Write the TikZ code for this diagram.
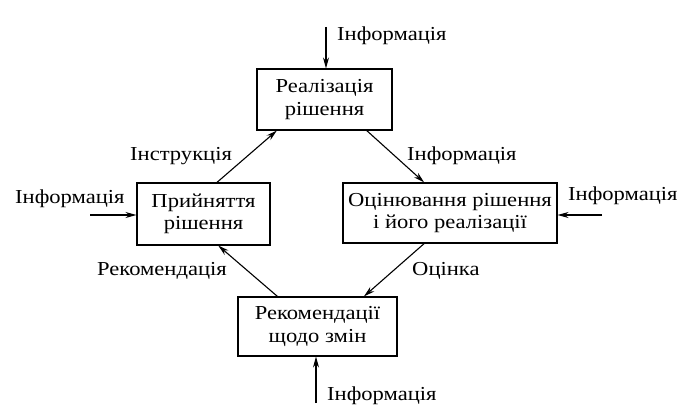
\documentclass[tikz,border=0pt]{standalone}
\usepackage{fontspec}
\setmainfont{Liberation Serif}[FakeStretch=1.14]
\usetikzlibrary{arrows.meta,calc}
\begin{document}
\begin{tikzpicture}[x=1pt,y=-1pt,
  font=\fontsize{19.8}{22.5}\selectfont,
  blk/.style={draw,line width=1.1pt,align=center,inner sep=0pt,minimum width=#1},
  lbl/.style={inner sep=0pt,anchor=west},
  arr/.style={line width=1.1pt,-{Stealth[length=11pt,width=6pt]}},
  ln/.style={line width=1.1pt}]
\useasboundingbox (0,0) rectangle (687,414);
\node[blk=135pt,minimum height=61pt] (top) at (324.5,99.5) {Реалізація\\рішення};
\node[blk=133pt,minimum height=62pt] (left) at (203.5,214) {Прийняття\\рішення};
\node[blk=214pt,minimum height=60pt] (right) at (450,213) {Оцінювання рішення\\і його реалізації};
\node[blk=159pt,minimum height=59pt] (bot) at (317.5,326.5) {Рекомендації\\щодо змін};
\coordinate (it) at (326,27);
\coordinate (il) at (90,215);
\coordinate (ir) at (602,215);
\coordinate (ib) at (316,403);
\draw[arr] (it) -- (it |- top.north);
\draw[arr] (il) -- (il -| left.west);
\draw[arr] (ir) -- (ir -| right.east);
\draw[arr] (ib) -- (ib |- bot.south);
\draw[arr] ($(left.north west)!0.6!(left.north east)$) -- ($(top.south west)!0.15!(top.south east)$);
\draw[arr] ($(top.south west)!0.81!(top.south east)$) -- ($(right.north west)!0.38!(right.north east)$);
\draw[arr] ($(right.south west)!0.38!(right.south east)$) -- ($(bot.north west)!0.79!(bot.north east)$);
\draw[arr] ($(bot.north west)!0.25!(bot.north east)$) -- ($(left.south west)!0.61!(left.south east)$);
\node[lbl] (t1) at (337,36) {Інформація};
\node[lbl] (t2) at (15,199) {Інформація};
\node[lbl] (t3) at (130,156) {Інструкція};
\node[lbl] (t4) at (97,271) {Рекомендація};
\node[lbl] (t5) at (407,156) {Інформація};
\node[lbl] (t6) at (568,196) {Інформація};
\node[lbl] (t7) at (412,271) {Оцінка};
\node[lbl] (t8) at (327,396) {Інформація};
\end{tikzpicture}
\end{document}
